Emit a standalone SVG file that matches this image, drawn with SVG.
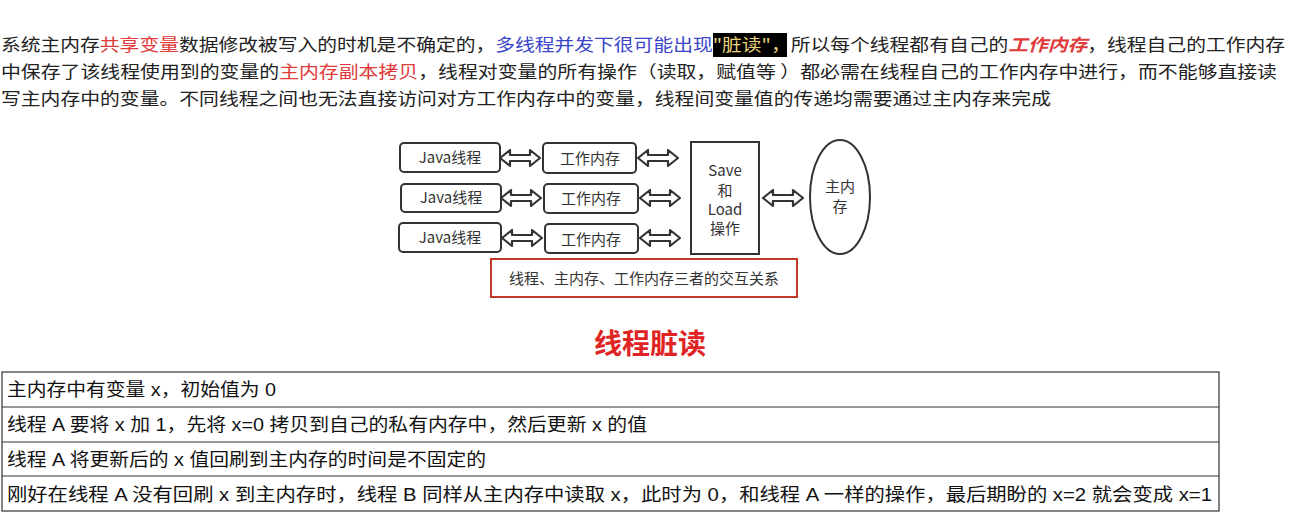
<svg xmlns="http://www.w3.org/2000/svg" xmlns:xlink="http://www.w3.org/1999/xlink" width="1302" height="523" viewBox="0 0 1302 523">
<style>
.p{font-family:"Noto Sans CJK SC","Liberation Sans",sans-serif;font-size:17px;fill:#222}
.r{fill:#e03a3a}.b{fill:#3a46c8}
.box{fill:#fff;stroke:#333;stroke-width:2}
.d{font-family:"Noto Sans CJK SC","Liberation Sans",sans-serif;font-size:15px;fill:#333;text-anchor:middle}
.t{font-family:"Liberation Sans","Noto Sans CJK SC",sans-serif;font-size:18px;fill:#111}
.arr{fill:#fff;stroke:#333;stroke-width:2.2;stroke-linejoin:round}
</style>
<defs>
<polygon id="da" class="arr" points="0,0 10,-8 10,-3 30,-3 30,-8 40,0 30,8 30,3 10,3 10,8"/>
</defs>
<rect width="1302" height="523" fill="#fff"/>
<rect x="713" y="33" width="74" height="24" fill="#000"/>
<g id="para">
<text class="p" x="1" y="51" textLength="1284" lengthAdjust="spacingAndGlyphs">系统主内存<tspan class="r">共享变量</tspan>数据修改被写入的时机是不确定的，<tspan class="b">多线程并发下很可能出现</tspan><tspan fill="#e8d27a">"脏读"，</tspan>所以每个线程都有自己的<tspan class="r" font-style="italic" font-weight="bold">工作内存</tspan>，线程自己的工作内存</text>
<text class="p" x="1" y="78" textLength="1276" lengthAdjust="spacingAndGlyphs">中保存了该线程使用到的变量的<tspan class="r">主内存副本拷贝</tspan>，线程对变量的所有操作（读取，赋值等 ）都必需在线程自己的工作内存中进行，而不能够直接读</text>
<text class="p" x="1" y="105" textLength="1050" lengthAdjust="spacingAndGlyphs">写主内存中的变量。不同线程之间也无法直接访问对方工作内存中的变量，线程间变量值的传递均需要通过主内存来完成</text>
</g>
<g id="java1"><rect class="box" x="400" y="143" width="100" height="29" rx="4"/><text class="d" x="450" y="163">Java线程</text></g>
<g id="java2"><rect class="box" x="401" y="184" width="100" height="28" rx="4"/><text class="d" x="451" y="203">Java线程</text></g>
<g id="java3"><rect class="box" x="399" y="223" width="102" height="29" rx="4"/><text class="d" x="450" y="243">Java线程</text></g>
<g id="wm1"><rect class="box" x="543" y="143" width="93" height="30" rx="4"/><text class="d" x="590" y="164">工作内存</text></g>
<g id="wm2"><rect class="box" x="544" y="184" width="94" height="29" rx="4"/><text class="d" x="591" y="204">工作内存</text></g>
<g id="wm3"><rect class="box" x="545" y="224" width="93" height="29" rx="4"/><text class="d" x="591" y="245">工作内存</text></g>
<g id="sl"><rect class="box" x="691" y="142" width="68" height="112"/><text class="d" x="725" y="176">Save</text><text class="d" x="725" y="196">和</text><text class="d" x="725" y="215">Load</text><text class="d" x="725" y="234">操作</text></g>
<g id="main"><ellipse class="box" cx="840" cy="197" rx="30" ry="57"/><text class="d" x="840" y="192">主内</text><text class="d" x="840" y="212">存</text></g>
<g id="cap"><rect x="491" y="259" width="306" height="38" fill="#fff" stroke="#c0392b" stroke-width="2"/><text class="d" x="644" y="284">线程、主内存、工作内存三者的交互关系</text></g>
<g id="connectors">
<use xlink:href="#da" transform="translate(500,158)"/>
<use xlink:href="#da" transform="translate(501,198)"/>
<use xlink:href="#da" transform="translate(502,238)"/>
<use xlink:href="#da" transform="translate(638,158)"/>
<use xlink:href="#da" transform="translate(640,198)"/>
<use xlink:href="#da" transform="translate(640,238)"/>
<use xlink:href="#da" transform="translate(763,198)"/>
</g>
<text x="650" y="354" text-anchor="middle" font-family="Noto Sans CJK SC,sans-serif" font-size="28" font-weight="bold" fill="#e02424">线程脏读</text>
<g id="table" fill="none" stroke="#333" stroke-width="1.2">
<rect x="2" y="372" width="1217" height="139"/>
<line x1="2" y1="407" x2="1219" y2="407"/><line x1="2" y1="442" x2="1219" y2="442"/><line x1="2" y1="476" x2="1219" y2="476"/>
</g>
<g id="rows">
<text class="t" x="7" y="396" textLength="269" lengthAdjust="spacingAndGlyphs">主内存中有变量 x，初始值为 0</text>
<text class="t" x="7" y="431" textLength="640" lengthAdjust="spacingAndGlyphs">线程 A 要将 x 加 1，先将 x=0 拷贝到自己的私有内存中，然后更新 x 的值</text>
<text class="t" x="7" y="466" textLength="479" lengthAdjust="spacingAndGlyphs">线程 A 将更新后的 x 值回刷到主内存的时间是不固定的</text>
<text class="t" x="7" y="501" textLength="1205" lengthAdjust="spacingAndGlyphs">刚好在线程 A 没有回刷 x 到主内存时，线程 B 同样从主内存中读取 x，此时为 0，和线程 A 一样的操作，最后期盼的 x=2 就会变成 x=1</text>
</g>
</svg>
